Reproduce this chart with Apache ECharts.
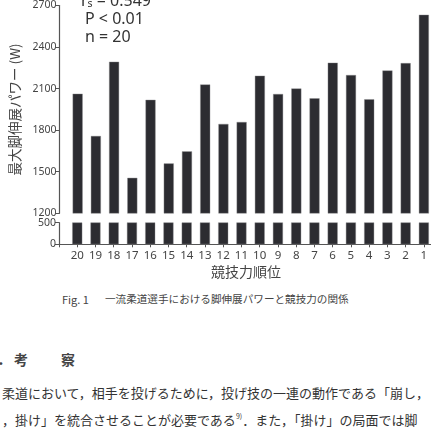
<!DOCTYPE html>
<html><head><meta charset="utf-8">
<script src="https://cdn.jsdelivr.net/npm/echarts@6/dist/echarts.min.js"></script>
<style>
html,body{margin:0;padding:0;background:#fff;width:431px;height:436px;overflow:hidden;position:relative;}
#chart{position:absolute;left:0;top:0;width:445px;height:290px;}
.t{position:absolute;white-space:nowrap;font-family:"Noto Sans CJK JP","Noto Sans",sans-serif;color:#333;line-height:1;}
</style></head>
<body>
<div id="chart"></div>
<div class="t" style="left:62px;top:294px;font-size:11px;color:#444;">Fig. 1</div>
<div class="t" style="left:105px;top:294px;font-size:10.6px;color:#444;">一流柔道選手における脚伸展パワーと競技力の関係</div>
<div class="t" style="left:-3px;top:352px;font-size:14px;font-weight:bold;color:#444;">．</div>
<div class="t" style="left:14px;top:352px;font-size:14px;font-weight:bold;color:#444;">考</div>
<div class="t" style="left:61px;top:352px;font-size:14px;font-weight:bold;color:#444;">察</div>
<div class="t" style="left:2px;top:386px;font-size:13px;color:#333;">柔道において，相手を投げるために，投げ技の一連の動作である「崩し，</div>
<div class="t" style="left:2px;top:413px;font-size:13px;color:#333;">，掛け」を統合させることが必要である<sup style="font-size:7px;vertical-align:6px;">9)</sup>．また，「掛け」の局面では脚</div>
<script>
const ranks = ['20','19','18','17','16','15','14','13','12','11','10','9','8','7','6','5','4','3','2','1'];
const power = [2063,1758,2294,1456,2019,1560,1647,2130,1845,1859,2193,2061,2101,2030,2287,2198,2023,2231,2284,2633];
const upperTicks = [1200,1500,1800,2100,2400,2700];
const lowerTicks = [0,500];

const barData = power.map((v,i)=>[i+1, v]);
const barColor = '#2c2c31';
const axisColor = '#555';
const labelColor = '#444';
const gridW = 374;

const chart = echarts.init(document.getElementById('chart'), null, {renderer:'canvas'});
chart.setOption({
  animation:false,
  grid:[
    {left:59, top:0.8, width:gridW, height:212.5},
    {left:59, top:222.7, width:gridW, height:21.6}
  ],
  xAxis:[
    {gridIndex:0, type:'value', min:0, max:20.5, interval:1, show:false},
    {gridIndex:1, type:'value', min:0, max:20.5, interval:1,
      splitLine:{show:false},
      axisLine:{show:true, lineStyle:{color:axisColor, width:1.2}},
      axisTick:{show:true, length:3, lineStyle:{color:axisColor}},
      axisLabel:{color:labelColor, fontSize:11.5, margin:5, fontFamily:'Noto Sans',
        formatter:v=> (Number.isInteger(v) && v>=1 && v<=ranks.length) ? ranks[v-1] : ''},
      name:'競技力順位', nameLocation:'middle', nameGap:20,
      nameTextStyle:{fontSize:14, color:labelColor, fontFamily:'Noto Sans CJK JP'}
    }
  ],
  yAxis:[
    {gridIndex:0, type:'value', min:upperTicks[0], max:upperTicks[upperTicks.length-1], interval:300,
      splitLine:{show:false},
      axisLine:{show:true, lineStyle:{color:axisColor, width:1.2}},
      axisTick:{show:true, length:4, lineStyle:{color:axisColor}},
      axisLabel:{color:labelColor, fontSize:10.5, margin:3, fontFamily:'Noto Sans', formatter:v=>String(v)},
      name:'最大脚伸展パワー (W)', nameLocation:'middle', nameGap:37,
      nameTextStyle:{fontSize:13.5, color:labelColor, fontFamily:'Noto Sans CJK JP', padding:[0,0,0,0]}
    },
    {gridIndex:1, type:'value', min:lowerTicks[0], max:lowerTicks[1], interval:500,
      splitLine:{show:false},
      axisLine:{show:true, lineStyle:{color:axisColor, width:1.2}},
      axisTick:{show:true, length:4, lineStyle:{color:axisColor}},
      axisLabel:{color:labelColor, fontSize:10.5, margin:3, fontFamily:'Noto Sans', formatter:v=>String(v)}
    }
  ],
  series:[
    {type:'bar', xAxisIndex:0, yAxisIndex:0, data:barData, barWidth:10, clip:true,
      itemStyle:{color:barColor, borderColor:'#8a8a8e', borderWidth:0.4}},
    {type:'bar', xAxisIndex:1, yAxisIndex:1, data:barData, barWidth:10, clip:true,
      itemStyle:{color:barColor, borderColor:'#8a8a8e', borderWidth:0.4}}
  ],
  graphic:[
    {type:'text', left:81, top:-7, style:{text:'{a|r}{b|s}{a| = 0.549}', rich:{a:{fontSize:16, fill:'#333', fontFamily:'Noto Sans'}, b:{fontSize:10.5, fill:'#333', fontFamily:'Noto Sans', padding:[6,0,0,0]}}}},
    {type:'text', left:85, top:11, style:{text:'P < 0.01', fontSize:16, fill:'#333', fontFamily:'Noto Sans'}},
    {type:'text', left:85, top:29, style:{text:'n = 20', fontSize:16, fill:'#333', fontFamily:'Noto Sans'}}
  ]
});
</script>
</body></html>
